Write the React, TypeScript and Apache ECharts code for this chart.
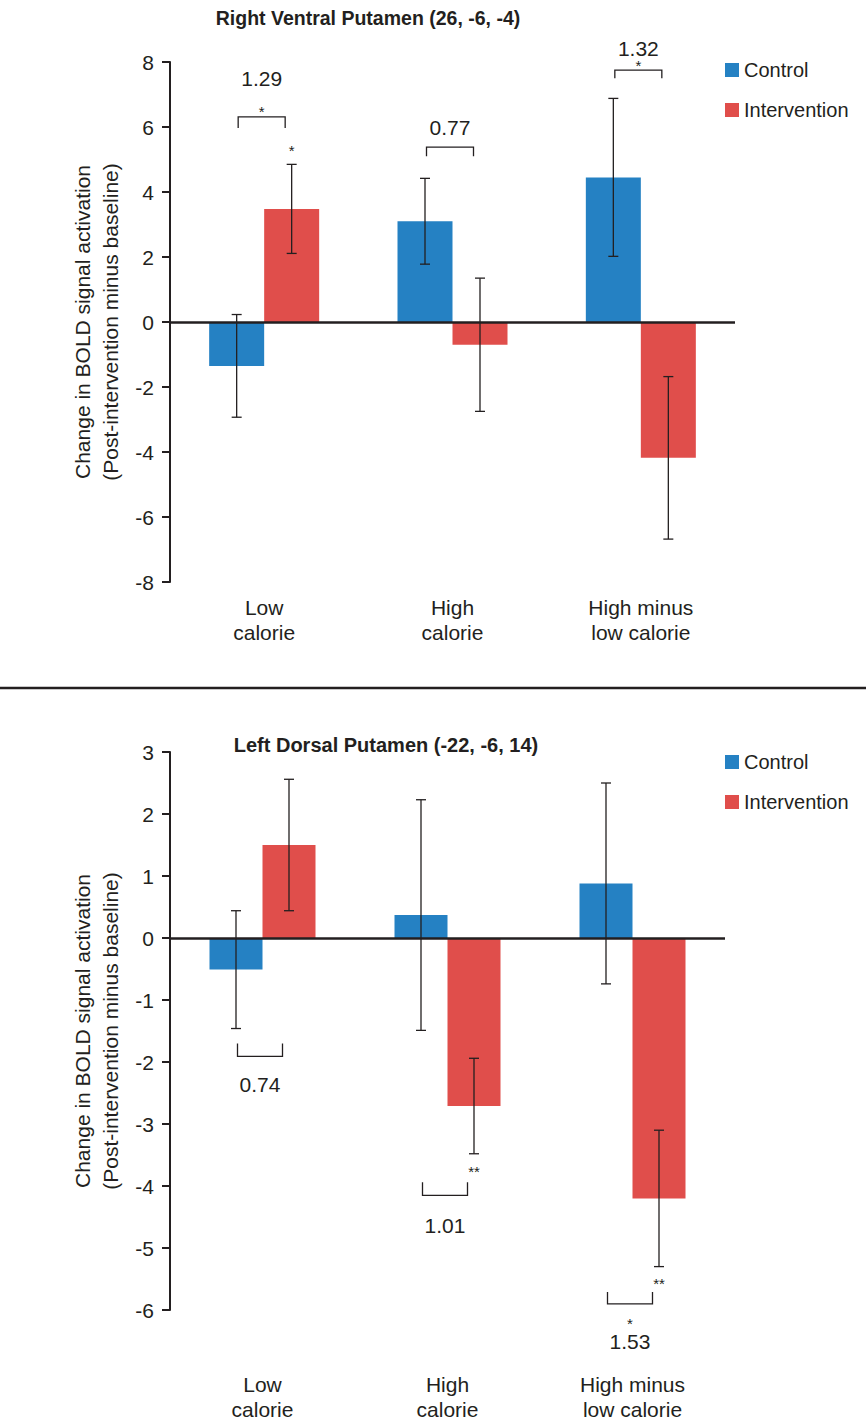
import React, { useEffect, useRef } from 'react';
import * as echarts from 'echarts';

const categories = ['Low\ncalorie', 'High\ncalorie', 'High minus\nlow calorie'];
const seriesNames = ['Control', 'Intervention'];

// Panel 1: Right Ventral Putamen (26, -6, -4)
const rvpTitle = 'Right Ventral Putamen (26, -6, -4)';
const rvpControl = [-1.35, 3.1, 4.45];
const rvpControlSE = [1.58, 1.32, 2.43];
const rvpIntervention = [3.48, -0.7, -4.18];
const rvpInterventionSE = [1.37, 2.05, 2.5];
const rvpYMin = -8;
const rvpYMax = 8;
const rvpYInterval = 2;
const rvpBracketLevel = [6.31, 5.38, 7.75];
const rvpBracketLeg = [5.97, 5.1, 7.5];
const rvpDiffLabel = ['1.29', '0.77', '1.32'];
const rvpDiffLabelY = [7.5, 5.97, 8.43];
const rvpBracketStar = ['*', '', '*'];
const rvpBracketStarY = [6.58, 0, 7.97];
const rvpInterventionStar = ['*', '', ''];
const rvpInterventionStarY = [5.38, 0, 0];

// Panel 2: Left Dorsal Putamen (-22, -6, 14)
const ldpTitle = 'Left Dorsal Putamen (-22, -6, 14)';
const ldpControl = [-0.51, 0.37, 0.88];
const ldpControlSE = [0.95, 1.86, 1.62];
const ldpIntervention = [1.5, -2.71, -4.2];
const ldpInterventionSE = [1.06, 0.77, 1.1];
const ldpYMin = -6;
const ldpYMax = 3;
const ldpYInterval = 1;
const ldpBracketLevel = [-1.91, -4.15, -5.9];
const ldpBracketLeg = [-1.7, -3.94, -5.71];
const ldpDiffLabel = ['0.74', '1.01', '1.53'];
const ldpDiffLabelY = [-2.36, -4.63, -6.5];
const ldpBracketStar = ['', '', '*'];
const ldpBracketStarY = [0, 0, -6.17];
const ldpInterventionStar = ['', '**', '**'];
const ldpInterventionStarY = [0, -3.71, -5.53];

const BLUE = '#2581c3';
const RED = '#e04e4b';
const INK = '#231f20';
const FONT = '"Liberation Sans", Arial, sans-serif';
const FS = 21;
const yName = 'Change in BOLD signal activation\n(Post-intervention minus baseline)';

function errorRenderer(offset: number) {
  return (params: any, api: any) => {
    const cat = api.value(0);
    const x = api.coord([cat, 0])[0] + offset;
    const yLo = api.coord([cat, api.value(1)])[1];
    const yHi = api.coord([cat, api.value(2)])[1];
    const cap = 5;
    const style = { stroke: INK, lineWidth: 1.3 };
    return {
      type: 'group',
      children: [
        { type: 'line', shape: { x1: x, y1: yLo, x2: x, y2: yHi }, style },
        { type: 'line', shape: { x1: x - cap, y1: yHi, x2: x + cap, y2: yHi }, style },
        { type: 'line', shape: { x1: x - cap, y1: yLo, x2: x + cap, y2: yLo }, style },
      ],
    };
  };
}

function annotationRenderer(
  level: number[], leg: number[], label: string[], labelY: number[],
  bStar: string[], bStarY: number[], iStar: string[], iStarY: number[], half: number
) {
  return (params: any, api: any) => {
    const i = params.dataIndex;
    const center = api.coord([i, 0])[0];
    const x1 = center - half + 1.5;
    const x2 = center + half - 6.5;
    const yL = api.coord([i, level[i]])[1];
    const yLeg = api.coord([i, leg[i]])[1];
    const mid = (x1 + x2) / 2;
    const children: any[] = [
      {
        type: 'polyline',
        shape: { points: [[x1, yLeg], [x1, yL], [x2, yL], [x2, yLeg]] },
        style: { stroke: INK, lineWidth: 1.3, fill: 'none' },
      },
      {
        type: 'text',
        x: mid,
        y: api.coord([i, labelY[i]])[1],
        style: { text: label[i], fill: INK, fontSize: FS, fontFamily: FONT, align: 'center', verticalAlign: 'middle' },
      },
    ];
    if (bStar[i]) {
      children.push({
        type: 'text',
        x: mid,
        y: api.coord([i, bStarY[i]])[1] + 3,
        style: { text: bStar[i], fill: INK, fontSize: 15, fontFamily: FONT, align: 'center', verticalAlign: 'middle' },
      });
    }
    if (iStar[i]) {
      children.push({
        type: 'text',
        x: center + half,
        y: api.coord([i, iStarY[i]])[1] + 3,
        style: { text: iStar[i], fill: INK, fontSize: 15, fontFamily: FONT, align: 'center', verticalAlign: 'middle' },
      });
    }
    return { type: 'group', children };
  };
}

function yAxisCfg(grid: number, min: number, max: number, interval: number) {
  return {
    gridIndex: grid,
    type: 'value',
    min,
    max,
    interval,
    axisLine: { show: true, lineStyle: { color: INK, width: 2 } },
    axisTick: { show: true, length: 8, lineStyle: { color: INK, width: 2 } },
    splitLine: { show: false },
    axisLabel: { color: INK, fontSize: FS, fontFamily: FONT, margin: 16 },
    name: yName,
    nameLocation: 'middle',
    nameRotate: 90,
    nameGap: 43,
    nameTextStyle: { color: INK, fontSize: FS, lineHeight: 28, fontFamily: FONT },
  };
}

function xAxisCfg(grid: number, margin: number) {
  return {
    gridIndex: grid,
    type: 'category',
    data: categories,
    axisLine: { show: false, onZero: false },
    axisTick: { show: false },
    axisLabel: { color: INK, fontSize: FS, lineHeight: 25, margin, fontFamily: FONT, interval: 0 },
  };
}

const zeroLine = {
  silent: true,
  symbol: ['none', 'none'],
  label: { show: false },
  lineStyle: { color: INK, width: 2.5, type: 'solid' },
  data: [{ yAxis: 0 }],
};

function panelSeries(
  idx: number, barW: number, ctrl: number[], ctrlSE: number[], intv: number[], intvSE: number[],
  ann: any
) {
  const half = barW / 2;
  return [
    {
      type: 'bar', name: seriesNames[0], xAxisIndex: idx, yAxisIndex: idx, data: ctrl,
      barWidth: barW, barGap: '0%', itemStyle: { color: BLUE }, markLine: zeroLine,
    },
    {
      type: 'bar', name: seriesNames[1], xAxisIndex: idx, yAxisIndex: idx, data: intv,
      barWidth: barW, barGap: '0%', itemStyle: { color: RED },
    },
    {
      type: 'custom', xAxisIndex: idx, yAxisIndex: idx, z: 5,
      data: ctrl.map((v, i) => [i, v - ctrlSE[i], v + ctrlSE[i]]),
      encode: { x: 0, y: [1, 2] },
      renderItem: errorRenderer(-half),
    },
    {
      type: 'custom', xAxisIndex: idx, yAxisIndex: idx, z: 5,
      data: intv.map((v, i) => [i, v - intvSE[i], v + intvSE[i]]),
      encode: { x: 0, y: [1, 2] },
      renderItem: errorRenderer(half),
    },
    {
      type: 'custom', xAxisIndex: idx, yAxisIndex: idx, z: 6, clip: false,
      data: categories.map((_, i) => [i, ann.level[i]]),
      encode: { x: 0, y: 1 },
      renderItem: annotationRenderer(
        ann.level, ann.leg, ann.label, ann.labelY, ann.bStar, ann.bStarY, ann.iStar, ann.iStarY, half
      ),
    },
  ];
}

function legendCfg(top: number) {
  return {
    orient: 'vertical',
    left: 725,
    top,
    padding: 0,
    icon: 'rect',
    itemWidth: 14,
    itemHeight: 14,
    itemGap: 20,
    data: seriesNames,
    textStyle: { color: INK, fontSize: 20, fontFamily: FONT },
  };
}

export default function App() {
  const ref = useRef<HTMLDivElement>(null);
  useEffect(() => {
    if (!ref.current) return;
    const chart = echarts.init(ref.current, undefined, { renderer: 'svg' });
    chart.setOption({
      animation: false,
      backgroundColor: '#ffffff',
      grid: [
        { left: 170, top: 62, width: 565, height: 520 },
        { left: 170, top: 752, width: 555, height: 560 },
      ],
      legend: [legendCfg(60), legendCfg(752)],
      xAxis: [xAxisCfg(0, 13), xAxisCfg(1, 62)],
      yAxis: [
        yAxisCfg(0, rvpYMin, rvpYMax, rvpYInterval),
        yAxisCfg(1, ldpYMin, ldpYMax, ldpYInterval),
      ],
      graphic: [
        {
          type: 'text', x: 368, y: 18,
          style: { text: rvpTitle, fill: INK, fontSize: 19.5, fontWeight: 'bold', fontFamily: FONT, align: 'center', verticalAlign: 'middle' },
        },
        {
          type: 'text', x: 386, y: 745,
          style: { text: ldpTitle, fill: INK, fontSize: 20, fontWeight: 'bold', fontFamily: FONT, align: 'center', verticalAlign: 'middle' },
        },
        {
          type: 'line', shape: { x1: 0, y1: 688, x2: 866, y2: 688 },
          style: { stroke: INK, lineWidth: 2.5 },
        },
      ],
      series: [
        ...panelSeries(0, 55, rvpControl, rvpControlSE, rvpIntervention, rvpInterventionSE, {
          level: rvpBracketLevel, leg: rvpBracketLeg, label: rvpDiffLabel, labelY: rvpDiffLabelY,
          bStar: rvpBracketStar, bStarY: rvpBracketStarY, iStar: rvpInterventionStar, iStarY: rvpInterventionStarY,
        }),
        ...panelSeries(1, 53, ldpControl, ldpControlSE, ldpIntervention, ldpInterventionSE, {
          level: ldpBracketLevel, leg: ldpBracketLeg, label: ldpDiffLabel, labelY: ldpDiffLabelY,
          bStar: ldpBracketStar, bStarY: ldpBracketStarY, iStar: ldpInterventionStar, iStarY: ldpInterventionStarY,
        }),
      ],
    });
    return () => chart.dispose();
  }, []);
  return (
    <div
      ref={ref}
      style={{ position: 'absolute', left: 0, top: 0, width: 866, height: 1422, background: '#fff' }}
    />
  );
}
